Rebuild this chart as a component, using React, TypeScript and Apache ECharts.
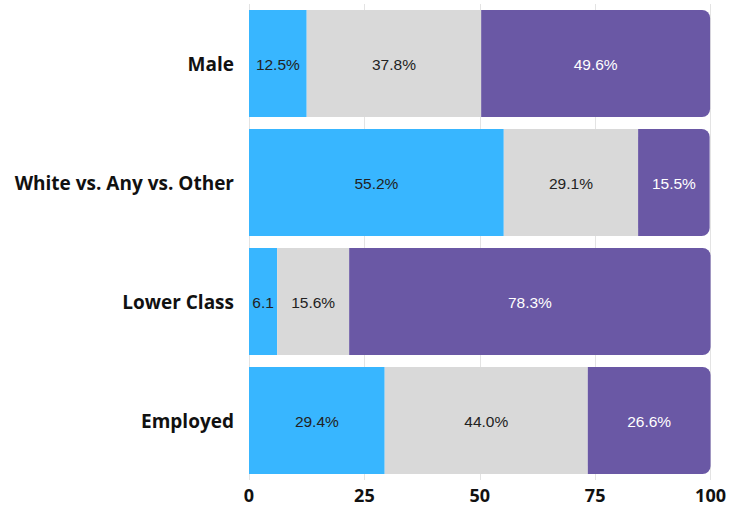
import React, { useEffect, useRef } from "react";
import * as echarts from "echarts";

const categories = ["Male", "White vs. Any vs. Other", "Lower Class", "Employed"];
const blueValues = [12.5, 55.2, 6.1, 29.4];
const grayValues = [37.8, 29.1, 15.6, 44.0];
const purpleValues = [49.6, 15.5, 78.3, 26.6];
const blueLabels = ["12.5%", "55.2%", "6.1", "29.4%"];
const grayLabels = ["37.8%", "29.1%", "15.6%", "44.0%"];
const purpleLabels = ["49.6%", "15.5%", "78.3%", "26.6%"];

export default function App() {
  const ref = useRef<HTMLDivElement>(null);
  useEffect(() => {
    if (!ref.current) return;
    const chart = echarts.init(ref.current, undefined, { renderer: "svg" });
    const labelBase = {
      show: true,
      position: "inside" as const,
      fontFamily: "Liberation Sans, Arial, sans-serif",
      fontSize: 15.5,
      offset: [0, 1],
    };
    chart.setOption({
      animation: false,
      grid: { left: 249, right: 15, top: 4, bottom: 27, containLabel: false },
      xAxis: {
        type: "value",
        min: 0,
        max: 100,
        interval: 25,
        axisLine: { show: false },
        axisTick: { show: false },
        splitLine: { show: true, lineStyle: { color: "#e3e3e3", width: 1 } },
        axisLabel: {
          color: "#111",
          fontWeight: "bold",
          fontSize: 18,
          lineHeight: 18,
          fontFamily: "Open Sans, sans-serif",
          margin: 6,
        },
      },
      yAxis: {
        type: "category",
        data: categories,
        inverse: true,
        axisLine: { show: false },
        axisTick: { show: false },
        splitLine: { show: false },
        axisLabel: {
          color: "#111",
          fontWeight: "bold",
          fontSize: 19,
          fontFamily: "Open Sans, sans-serif",
          margin: 15,
        },
      },
      series: [
        {
          type: "bar",
          stack: "s",
          barWidth: "90%",
          data: blueValues,
          itemStyle: { color: "#38b6ff" },
          label: { ...labelBase, color: "#222", formatter: (p: any) => blueLabels[p.dataIndex] },
        },
        {
          type: "bar",
          stack: "s",
          data: grayValues,
          itemStyle: { color: "#d9d9d9" },
          label: { ...labelBase, color: "#222", formatter: (p: any) => grayLabels[p.dataIndex] },
        },
        {
          type: "bar",
          stack: "s",
          data: purpleValues,
          itemStyle: { color: "#6a58a5", borderRadius: [0, 8, 8, 0] },
          label: { ...labelBase, color: "#ffffff", formatter: (p: any) => purpleLabels[p.dataIndex] },
        },
      ],
    });
    return () => chart.dispose();
  }, []);
  return <div ref={ref} style={{ width: 729, height: 507, position: "absolute", left: 0, top: 0 }} />;
}
